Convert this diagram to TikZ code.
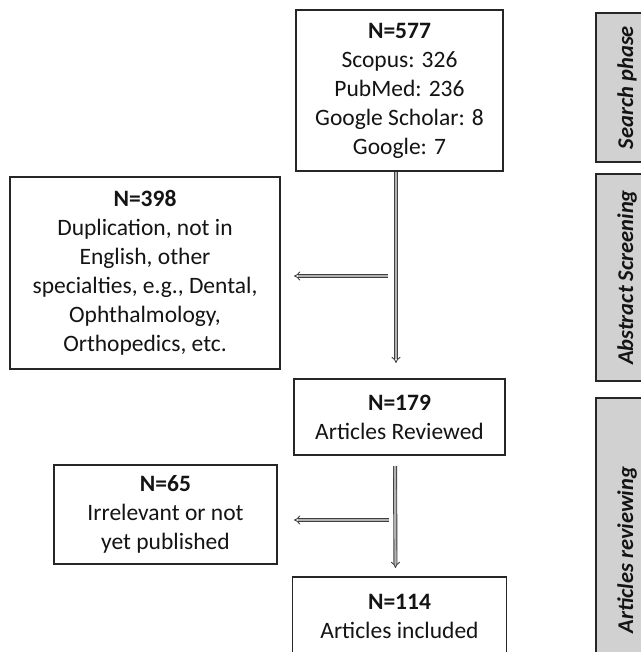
\documentclass[tikz,border=0pt]{standalone}
\usepackage{fontspec}
\setmainfont{Carlito}
\usetikzlibrary{positioning,calc,arrows.meta}

\begin{document}
\begin{tikzpicture}[x=1pt,y=1pt,
    box/.style={draw=black!85,line width=1.2pt,fill=white,align=center,outer sep=0pt,
      inner sep=2pt,text=black!92,font=\fontsize{23.5}{29}\selectfont},
    phase/.style={draw=black!85,line width=1.2pt,fill=black!18,rotate=90,outer sep=0pt,
      text=black!92,font=\fontsize{22.5}{27}\selectfont\bfseries\itshape},
    flowarr/.style={draw=black!75,line width=0.9pt,double=black!30,double distance=2.2pt,-{Implies}}]
      \useasboundingbox (0,0) rectangle (640,-652);
      \fill[white] (0,0) rectangle (640,-652);

      \node[box,minimum width=207pt,minimum height=161pt] (n577) at (399.5,-90.5)
        {\textbf{N=577}\\Scopus: 326\\PubMed: 236\\Google Scholar: 8\\Google: 7};
      \node[box,minimum width=211pt,minimum height=76pt,below=208pt of n577] (n179)
        {\textbf{N=179}\\Articles Reviewed};
      \node[box,minimum width=214pt,minimum height=78pt,below=122pt of n179] (n114)
        {\textbf{N=114}\\Articles included};
      \node[box,minimum width=270pt,minimum height=192pt,
        below left=6pt and 16pt of n577.south west] (n398)
        {\textbf{N=398}\\Duplication, not in\\English, other\\specialties, e.g., Dental,\\Ophthalmology,\\Orthopedics, etc.};
      \node[box,minimum width=223pt,minimum height=99pt,
        below left=10pt and 17pt of n179.south west] (n65)
        {\textbf{N=65}\\Irrelevant or not\\yet published};

      % phases on the right, cut by the page edge
      \node[phase,minimum width=149pt,minimum height=62pt] (search) at (627,-87.5) {Search phase};
      \node[phase,minimum width=207pt,minimum height=62pt] (screen) at (627,-277.5) {Abstract Screening};
      \node[phase,minimum width=304pt,minimum height=62pt] (review) at (627,-550) {Articles reviewing};

      \coordinate (split1) at (388,-276); % side exit 1
      \coordinate (split2) at (389,-520); % side exit 2

      \draw[flowarr,shorten <=1pt,shorten >=16pt] ([xshift=-3.5pt]n577.south) -- ([xshift=-3.5pt]n179.north);
      \draw[flowarr,shorten >=14pt] (split1) -- (split1 -| n398.east);
      \draw[flowarr,shorten <=11pt,shorten >=9pt] ([xshift=-4.5pt]n179.south) -- ([xshift=-4pt]n114.north);
      \draw[flowarr,shorten >=17pt] (split2) -- (split2 -| n65.east);
    \end{tikzpicture}
\end{document}
